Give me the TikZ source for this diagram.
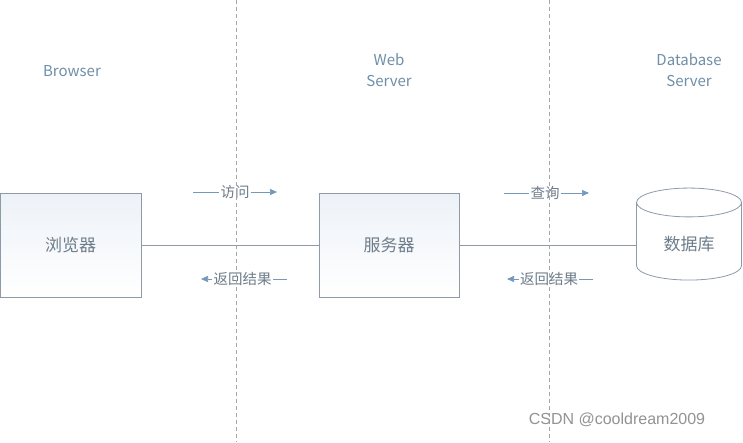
\documentclass[tikz,border=0pt]{standalone}
\usepackage{fontspec}
\setmainfont{Noto Sans CJK SC}
\newfontfamily\markfont{Liberation Sans}
\usetikzlibrary{shapes.geometric,positioning,arrows.meta,calc}
\definecolor{labelblue}{HTML}{6F8FA8}
\definecolor{boxgray}{HTML}{8E9BA6}
\definecolor{arrowblue}{HTML}{5A86B0}
\definecolor{textgray}{HTML}{6E7D8A}
\definecolor{boxtint}{HTML}{EDF2F8}
\tikzset{
  tierbox/.style={draw=boxgray,line width=0.8pt,minimum width=140pt,minimum height=104pt,
    top color=boxtint,bottom color=white,text=textgray,font=\fontsize{17}{20}\selectfont},
  dbstore/.style={cylinder,shape border rotate=90,aspect=0.5,draw=boxgray,line width=0.8pt,
    minimum width=105pt,minimum height=92pt,fill=white,text=textgray,font=\fontsize{17}{20}\selectfont},
  tierlabel/.style={text=labelblue,align=center,font=\fontsize{15}{21}\selectfont},
  msglabel/.style={text=textgray,inner sep=1pt,font=\fontsize{14.5}{16}\selectfont},
  msgline/.style={draw=arrowblue!85,line width=0.7pt},
  msgarrow/.style={msgline,-{Triangle[length=7pt,width=6pt]}},
  link/.style={draw=boxgray,line width=0.7pt},
  tierline/.style={draw=gray!70,line width=0.6pt,dash pattern=on 4pt off 3pt},
}
\begin{document}
\begin{tikzpicture}[x=1pt,y=-1pt]
\useasboundingbox[fill=white] (0,0) rectangle (743,442);

% tier boundaries
\coordinate (t1) at (236,0);
\coordinate (b1) at (236,442);
\coordinate (t2) at (549,0);
\coordinate (b2) at (549,442);

% tier names
\node[tierlabel] (browserlbl) at (72,71) {Browser};
\node[tierlabel] (weblbl) at (389,70) {Web\\Server};
\node[tierlabel] (dblbl) at (689,70) {Database\\Server};

% boxes
\node[tierbox,minimum width=141pt] (browser) at (70.5,245) {浏览器};
\node[tierbox] (server) at (389,245) {服务器};
\node[dbstore] (db) at (689,244) {数据库};

\draw[link] (browser) -- (server);
\draw[link] (server.east) -- (server.east -| db.west);

% messages
\node[msglabel] (visit) at (235,192) {访问};
\coordinate (v0) at (193,192);
\coordinate (v1) at (277,192);
\node[msglabel] (ret1) at (242.5,279) {返回结果};
\coordinate (r10) at (287,279);
\coordinate (r11) at (201,279);
\node[msglabel] (query) at (545,193) {查询};
\coordinate (q0) at (504,193);
\coordinate (q1) at (589,193);
\node[msglabel] (ret2) at (549,279) {返回结果};
\coordinate (r20) at (593,279);
\coordinate (r21) at (507,279);

\draw[msgline] (v0) -- (visit.west);
\draw[msgarrow] (visit.east) -- (v1);
\draw[msgline] (r10) -- (ret1.east);
\draw[msgarrow] (ret1.west) -- (r11);
\draw[msgline] (q0) -- (query.west);
\draw[msgarrow] (query.east) -- (q1);
\draw[msgline] (r20) -- (ret2.east);
\draw[msgarrow] (ret2.west) -- (r21);

\draw[tierline] (t1) -- (b1);
\draw[tierline] (t2) -- (b2);

\node[text=gray!85,font=\markfont\fontsize{16}{18}\selectfont] (mark) at (617,420) {CSDN @cooldream2009};
\end{tikzpicture}
\end{document}
